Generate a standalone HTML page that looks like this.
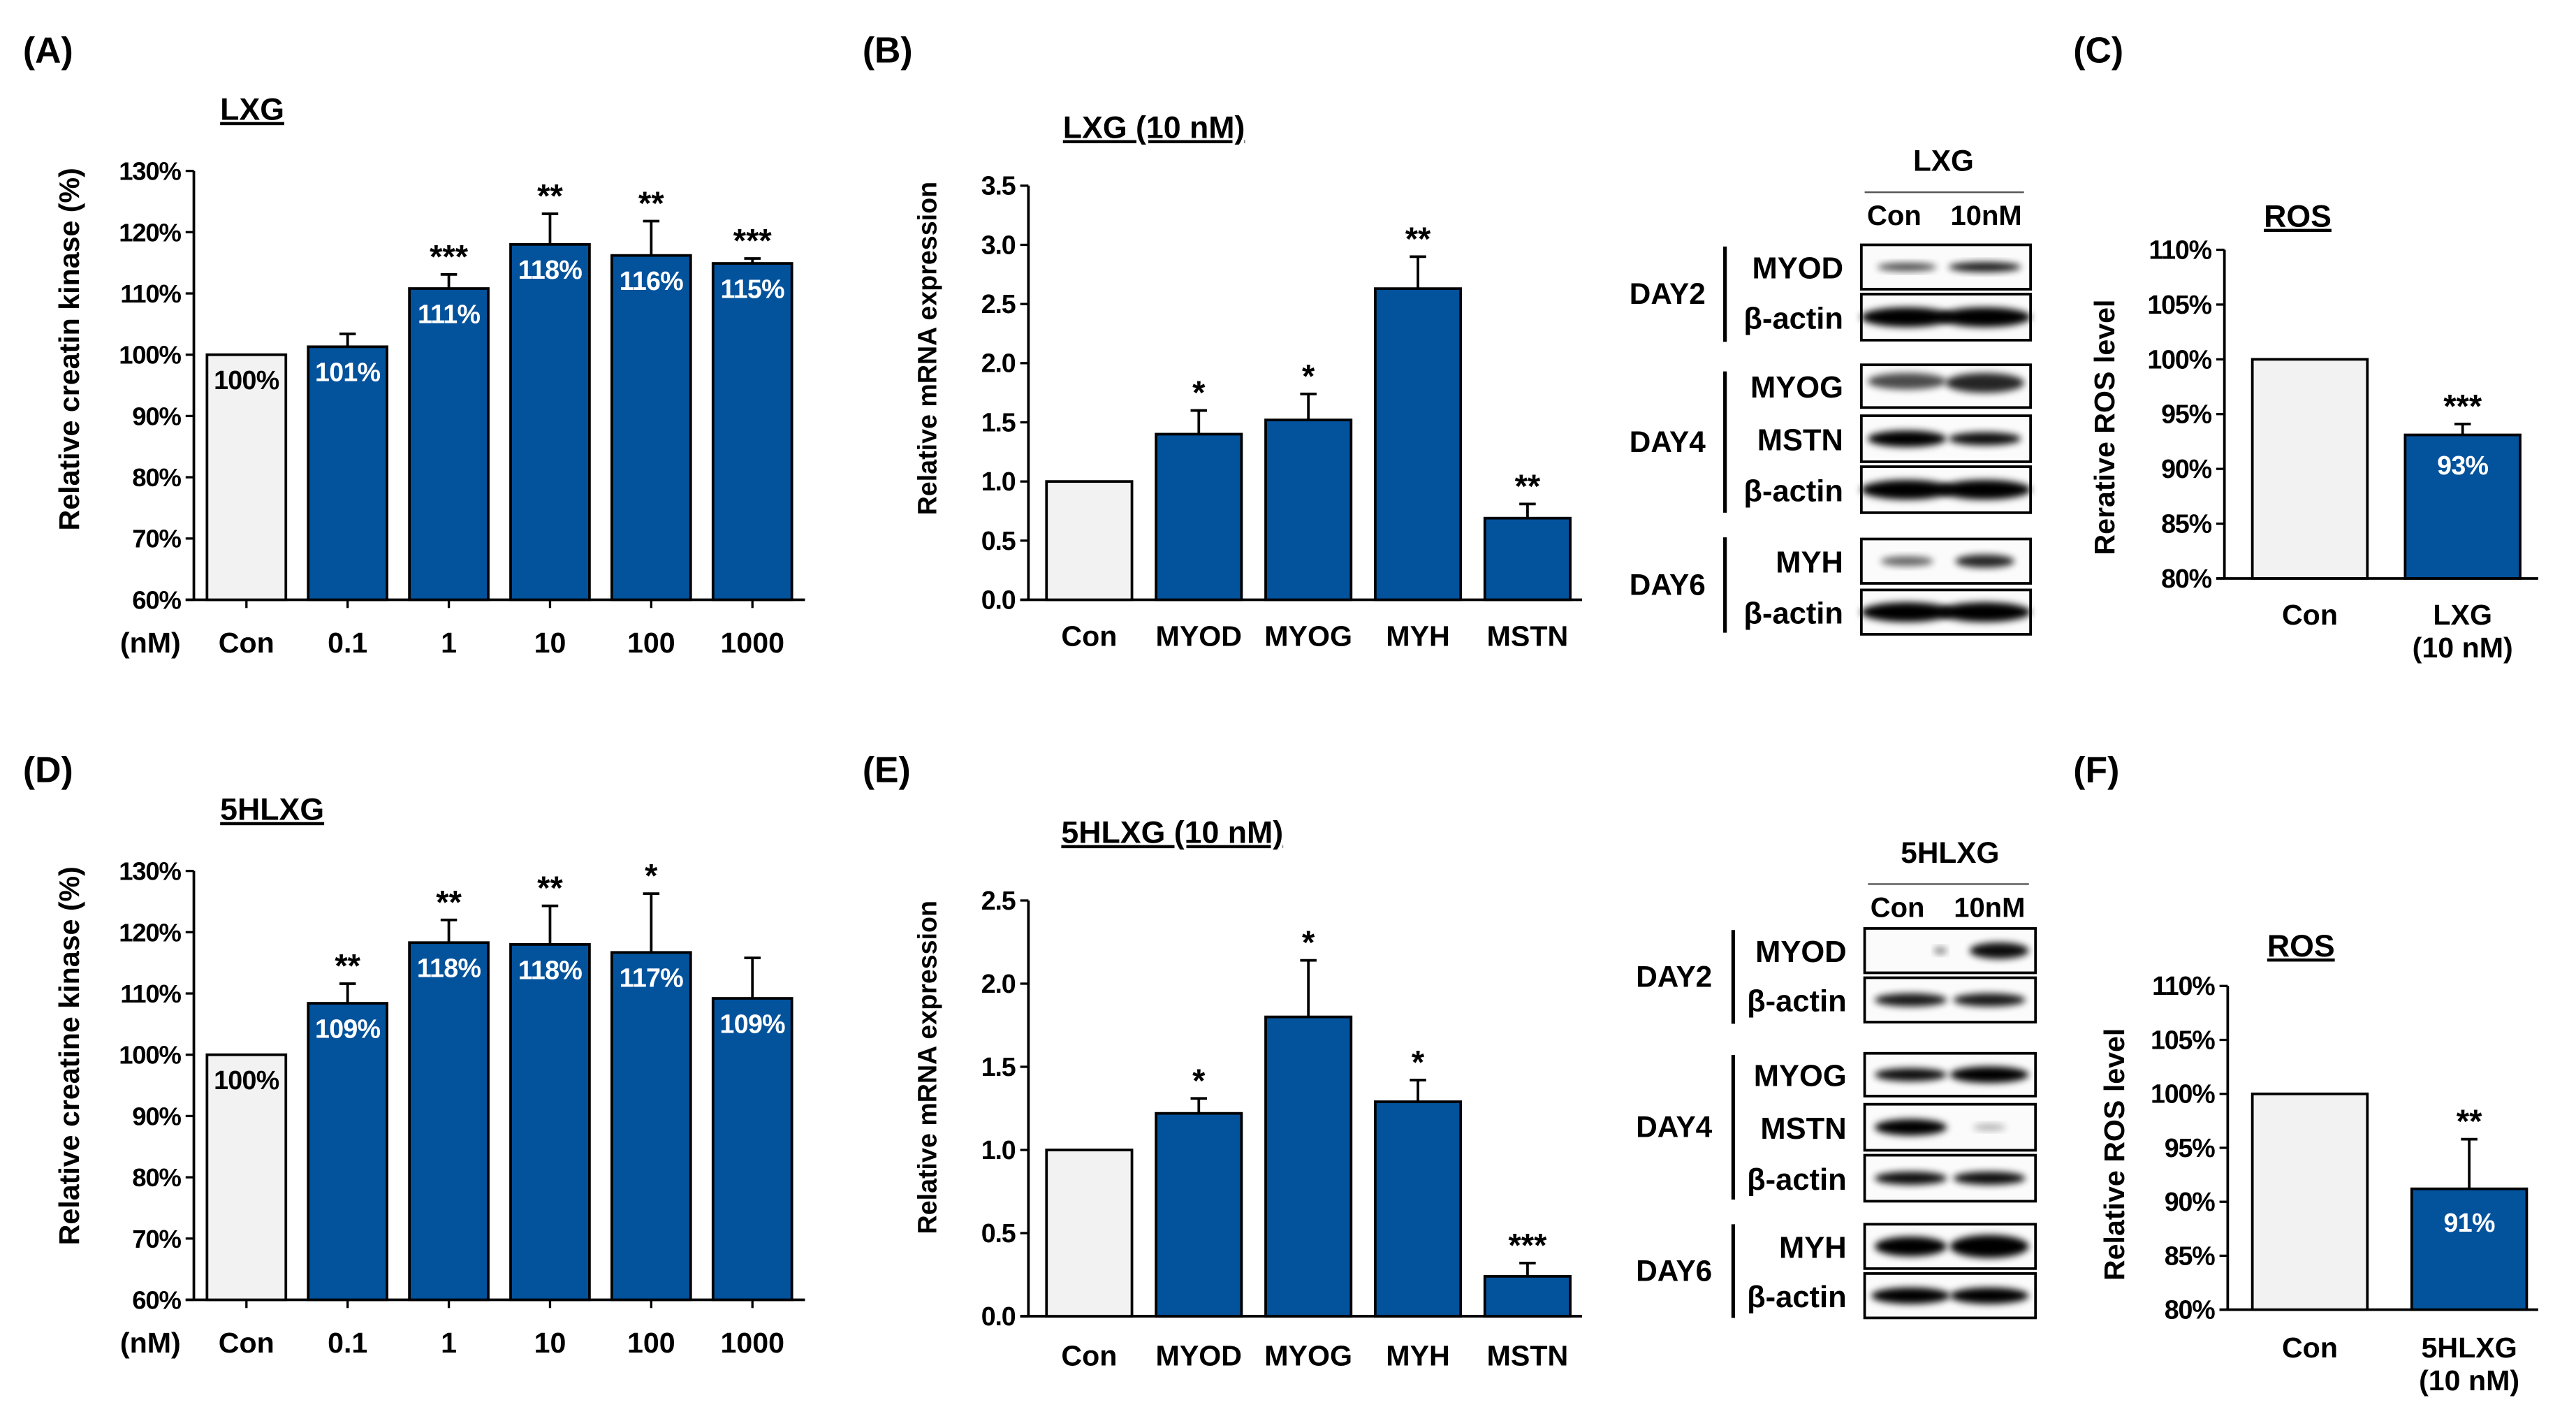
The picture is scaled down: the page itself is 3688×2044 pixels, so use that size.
<!DOCTYPE html>
<html><head><meta charset="utf-8">
<style>
html,body{margin:0;padding:0;background:#fff;}
svg{display:block;font-family:"Liberation Sans",Arial,sans-serif;font-weight:bold;}
</style></head>
<body>
<svg id="fig" xmlns="http://www.w3.org/2000/svg" width="3688" height="2044" viewBox="0 0 1568 869" preserveAspectRatio="none">
<defs><filter id="blur" x="-20%" y="-50%" width="140%" height="200%"><feGaussianBlur stdDeviation="2.2"/></filter></defs>
</svg>
<script>
// ---- Panel A data ----
const aCats = ["Con","0.1","1","10","100","1000"];
const aVals = [100,101.3,110.8,118,116.2,114.9];
const aErr = [0,2.1,2.3,5.0,5.6,0.8];
const aLabels = ["100%","101%","111%","118%","116%","115%"];
const aStars = ["","","***","**","**","***"];
const aTicks = [60,70,80,90,100,110,120,130];
// ---- Panel D data ----
const dCats = ["Con","0.1","1","10","100","1000"];
const dVals = [100,108.4,118.3,118,116.7,109.2];
const dErr = [0,3.2,3.7,6.3,9.6,6.6];
const dLabels = ["100%","109%","118%","118%","117%","109%"];
const dStars = ["","**","**","**","*",""];
const dTicks = [60,70,80,90,100,110,120,130];
// ---- Panel B data ----
const bCats = ["Con","MYOD","MYOG","MYH","MSTN"];
const bVals = [1.0,1.4,1.52,2.63,0.69];
const bErr = [0,0.2,0.22,0.27,0.12];
const bStars = ["","*","*","**","**"];
const bTicks = [0,0.5,1.0,1.5,2.0,2.5,3.0,3.5];
// ---- Panel E data ----
const eCats = ["Con","MYOD","MYOG","MYH","MSTN"];
const eVals = [1.0,1.22,1.8,1.29,0.24];
const eErr = [0,0.09,0.34,0.13,0.08];
const eStars = ["","*","*","*","***"];
const eTicks = [0,0.5,1.0,1.5,2.0,2.5];
// ---- Panel C data ----
const cCats = ["Con","LXG|(10 nM)"];
const cVals = [100,93.1];
const cErr = [0,1.0];
const cLabels = ["","93%"];
const cStars = ["","***"];
const cTicks = [80,85,90,95,100,105,110];
// ---- Panel F data ----
const fCats = ["Con","5HLXG|(10 nM)"];
const fVals = [100,91.2];
const fErr = [0,4.6];
const fLabels = ["","91%"];
const fStars = ["","**"];
const fTicks = [80,85,90,95,100,105,110];

const NS="http://www.w3.org/2000/svg";
const svg=document.getElementById('fig');
function mk(tag,attrs,parent,text){
  const e=document.createElementNS(NS,tag);
  for(const k in attrs)e.setAttribute(k,attrs[k]);
  if(text!==undefined)e.textContent=text;
  (parent||svg).appendChild(e);return e;
}
const BLUE="#03529c";

function chart(id,cfg,cats,vals,errs,labels,stars,ticks){
  const g=mk('g',{});
  
  
  const y=v=>cfg.y0-(v-cfg.vmin)/(cfg.vmax-cfg.vmin)*(cfg.y0-cfg.y1);
  const x=i=>cfg.cx0+i*cfg.step;
  const ya=mk('line',{x1:cfg.ax,y1:cfg.y1,x2:cfg.ax,y2:cfg.y0,stroke:'#000','stroke-width':1.6},g);
  
  
  const xa=mk('line',{x1:cfg.ax-5,y1:cfg.y0,x2:cfg.axEnd,y2:cfg.y0,stroke:'#000','stroke-width':1.6},g);
  
  
  ticks.forEach(t=>{
    mk('line',{x1:cfg.ax-5,y1:y(t),x2:cfg.ax,y2:y(t),stroke:'#000','stroke-width':1.4},g);
    const tl=mk('text',{x:cfg.ax-8,y:y(t)+5.5,'text-anchor':'end','font-size':cfg.tfs||15.5,'letter-spacing':'-0.5'},g,cfg.fmt(t));
    
    
  });
  cats.forEach((c,i)=>{
    if(cfg.xticks) mk('line',{x1:x(i),y1:cfg.y0,x2:x(i),y2:cfg.y0+5,stroke:'#000','stroke-width':1.4},g);
    const parts=c.split('|');
    parts.forEach((p,j)=>{
      const cl=mk('text',{x:x(i),y:cfg.y0+cfg.catDy+j*20,'text-anchor':'middle','font-size':cfg.cfs||17.5},g,p);
      
      
    });
    const v=vals[i], top=y(v);
    if(errs[i]>0){
      mk('line',{x1:x(i),y1:top,x2:x(i),y2:y(v+errs[i]),stroke:'#000','stroke-width':1.6},g);
      mk('line',{x1:x(i)-5,y1:y(v+errs[i]),x2:x(i)+5,y2:y(v+errs[i]),stroke:'#000','stroke-width':1.6},g);
    }
    const b=mk('rect',{x:x(i)-cfg.bw/2,y:top,width:cfg.bw,height:cfg.y0-top,fill:i===0?'#f2f2f2':BLUE,stroke:'#000','stroke-width':1.6},g);
    
    
    if(labels&&labels[i]){
      const lt=mk('text',{x:x(i),y:top+cfg.lblDy,'text-anchor':'middle','font-size':16,fill:i===0?'#000':'#fff','letter-spacing':'-0.3'},g,labels[i]);
      
      
    }
    if(stars[i]){
      const st=mk('text',{x:x(i),y:y(v+errs[i])-4+(cfg.starDy||0),'text-anchor':'middle','font-size':20},g,stars[i]);
      
      
    }
  });
  const yt=mk('text',{x:0,y:0,'text-anchor':'middle','font-size':cfg.yfs||17.5,transform:`translate(${cfg.ytx},${(cfg.y0+cfg.y1)/2+(cfg.ytdy||0)}) rotate(-90)`},g,cfg.ytitle);
  
  
  const tt=mk('text',{x:cfg.titleX,y:cfg.titleY,'font-size':19,'text-decoration':'underline'},g,cfg.title);
  
  
  if(cfg.unit){
    const u=mk('text',{x:cfg.ax-8,y:cfg.y0+cfg.catDy,'text-anchor':'end','font-size':17.5},g,cfg.unit);
    
    
  }
}
const pct=t=>t+'%';
const dec=t=>t.toFixed(1);
chart('a',{ax:118,axEnd:490,y0:365,y1:104,vmin:60,vmax:130,cx0:150,step:61.6,bw:48,xticks:true,catDy:32,lblDy:21,fmt:pct,ytitle:'Relative creatin kinase (%)',ytx:48,ytdy:-22,title:'LXG',titleX:134,titleY:73,unit:'(nM)'},aCats,aVals,aErr,aLabels,aStars,aTicks);
chart('d',{ax:118,axEnd:490,y0:791,y1:530,vmin:60,vmax:130,cx0:150,step:61.6,bw:48,xticks:true,catDy:32,lblDy:21,fmt:pct,ytitle:'Relative creatine kinase (%)',ytx:48,ytdy:-18,title:'5HLXG',titleX:134,titleY:499,unit:'(nM)'},dCats,dVals,dErr,dLabels,dStars,dTicks);
chart('b',{ax:626,axEnd:963,y0:365,y1:113,vmin:0,vmax:3.5,cx0:663,step:66.7,bw:52,xticks:false,catDy:28,tfs:16,fmt:dec,ytitle:'Relative mRNA expression',ytx:570,ytdy:-27,yfs:16,title:'LXG (10 nM)',titleX:647,titleY:84},bCats,bVals,bErr,null,bStars,bTicks);
chart('e',{ax:626,axEnd:963,y0:801,y1:548,vmin:0,vmax:2.5,cx0:663,step:66.7,bw:52,xticks:false,catDy:30,tfs:16,fmt:dec,ytitle:'Relative mRNA expression',ytx:570,ytdy:-25,yfs:16,title:'5HLXG (10 nM)',titleX:646,titleY:513},eCats,eVals,eErr,null,eStars,eTicks);
chart('c',{ax:1354,axEnd:1545,y0:352,y1:152,vmin:80,vmax:110,cx0:1406,step:93,bw:70,xticks:false,catDy:28,lblDy:24,tfs:16,fmt:pct,ytitle:'Rerative ROS level',ytx:1287,ytdy:8,title:'ROS',titleX:1378,titleY:138},cCats,cVals,cErr,cLabels,cStars,cTicks);
chart('f',{ax:1356,axEnd:1545,y0:797,y1:600,vmin:80,vmax:110,cx0:1406,step:97,bw:70,xticks:false,catDy:29,lblDy:26,tfs:16,fmt:pct,ytitle:'Relative ROS level',ytx:1293,ytdy:4,title:'ROS',titleX:1380,titleY:582},fCats,fVals,fErr,fLabels,fStars,fTicks);

[["(A)",14,38],["(B)",525,38],["(C)",1262,38],["(D)",14,476],["(E)",525,476],["(F)",1262,476]].forEach(p=>{
  const t=mk('text',{x:p[1],y:p[2],'font-size':22},svg,p[0]);
  
  
});

function blot(id,cfg){
  const g=mk('g',{});
  
  
  mk('text',{x:cfg.hx,y:cfg.hy,'text-anchor':'middle','font-size':18},g,cfg.head);
  mk('line',{x1:cfg.x0+2,y1:cfg.hy+13,x2:cfg.x1-4,y2:cfg.hy+13,stroke:'#555','stroke-width':1},g);
  mk('text',{x:cfg.x0+20,y:cfg.hy+33,'text-anchor':'middle','font-size':17},g,'Con');
  mk('text',{x:cfg.x0+76,y:cfg.hy+33,'text-anchor':'middle','font-size':17},g,'10nM');
  cfg.rows.forEach(r=>{
    const lb=mk('text',{x:cfg.x0-11,y:(r.t+r.b)/2+7,'text-anchor':'end','font-size':18.5},g,r.name);
    
    
    const bx=mk('rect',{x:cfg.x0,y:r.t,width:cfg.x1-cfg.x0,height:r.b-r.t,fill:'#fbfbfb',stroke:'#000','stroke-width':1.6},g);
    
    
    const cy=(r.t+r.b)/2, w=cfg.x1-cfg.x0;
    r.bands.forEach((bd,j)=>{
      const cx=cfg.x0+w*(j===0?0.27:0.73);
      mk('ellipse',{cx:cx+(bd.dx||0),cy:cy+(bd.dy||0),rx:bd.rx,ry:bd.ry,fill:'#000',opacity:bd.o,filter:'url(#blur)'},g);
    });
  });
  cfg.days.forEach(d=>{
    mk('text',{x:cfg.dx,y:(d.t+d.b)/2+6,'text-anchor':'middle','font-size':18},g,d.name);
    mk('line',{x1:cfg.lx,y1:d.t,x2:cfg.lx,y2:d.b,stroke:'#000','stroke-width':2.2},g);
  });
}
const A={rx:28,ry:6,o:1};
blot('b',{head:'LXG',hx:1183,hy:104,x0:1133,x1:1236,dx:1015,lx:1050,
 rows:[{name:'MYOD',t:149,b:176,bands:[{rx:18,ry:2.5,o:0.7},{rx:22,ry:3,o:0.9}]},
  {name:'β-actin',t:179,b:207,bands:[A,A]},
  {name:'MYOG',t:222,b:248,bands:[{rx:24,ry:5,o:0.7,dy:-3},{rx:24,ry:6,o:0.85,dy:-2}]},
  {name:'MSTN',t:253,b:281,bands:[{rx:24,ry:5,o:1},{rx:22,ry:4,o:0.95}]},
  {name:'β-actin',t:284,b:312,bands:[A,A]},
  {name:'MYH',t:328,b:355,bands:[{rx:16,ry:3,o:0.6},{rx:18,ry:4,o:0.85}]},
  {name:'β-actin',t:359,b:386,bands:[A,A]}],
 days:[{name:'DAY2',t:150,b:208},{name:'DAY4',t:226,b:312},{name:'DAY6',t:327,b:385}]});
blot('e',{head:'5HLXG',hx:1187,hy:525,x0:1135,x1:1239,dx:1019,lx:1055,
 rows:[{name:'MYOD',t:565,b:592,bands:[{rx:4,ry:2,o:0.5,dx:18},{rx:18,ry:5,o:0.95,dx:6}]},
  {name:'β-actin',t:595,b:622,bands:[{rx:22,ry:4,o:0.9},{rx:22,ry:4,o:0.9}]},
  {name:'MYOG',t:641,b:667,bands:[{rx:22,ry:4,o:0.95},{rx:24,ry:5,o:1}]},
  {name:'MSTN',t:672,b:700,bands:[{rx:22,ry:5,o:1},{rx:10,ry:2,o:0.3}]},
  {name:'β-actin',t:703,b:731,bands:[{rx:22,ry:4,o:0.95},{rx:22,ry:4,o:0.95}]},
  {name:'MYH',t:745,b:772,bands:[{rx:22,ry:6,o:1},{rx:24,ry:7,o:1}]},
  {name:'β-actin',t:775,b:802,bands:[{rx:24,ry:5,o:1},{rx:24,ry:5,o:1}]}],
 days:[{name:'DAY2',t:566,b:623},{name:'DAY4',t:642,b:730},{name:'DAY6',t:745,b:802}]});
</script>
</body></html>
